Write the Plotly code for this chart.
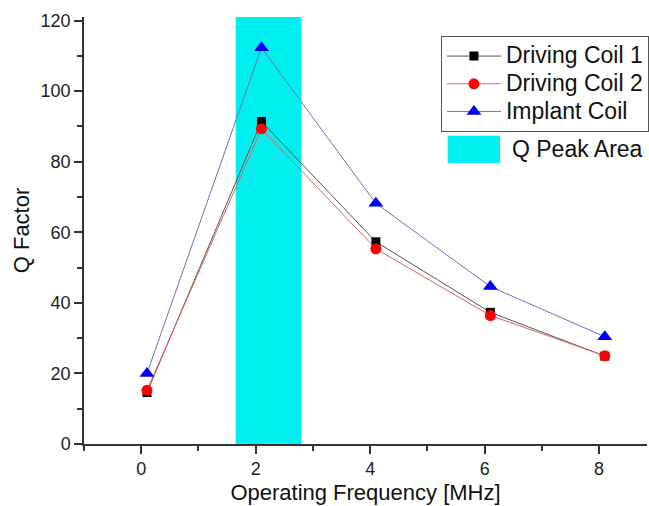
import plotly.graph_objects as go

freq = [0.1, 2.1, 4.1, 6.1, 8.1]
coil1 = [14.6, 91.4, 57.3, 37.3, 24.9]
coil2 = [15.2, 89.3, 55.3, 36.4, 25.0]
implant = [20.0, 112.3, 68.2, 44.6, 30.4]
band_x0, band_x1, band_top = 1.65, 2.80, 121

series_names = ["Driving Coil 1", "Driving Coil 2", "Implant Coil"]
band_name = "Q Peak Area"
x_title = "Operating Frequency [MHz]"
y_title = "Q Factor"

FONT = "Arial, Liberation Sans, sans-serif"

fig = go.Figure()
fig.add_shape(type="rect", xref="x", yref="y", x0=band_x0, x1=band_x1, y0=0, y1=band_top,
              fillcolor="#00f0f0", line=dict(width=0), layer="below")

styles = [
    dict(color="#555555", mcolor="black", symbol="square", size=9),
    dict(color="#e06060", mcolor="#ff0000", symbol="circle", size=11),
    dict(color="#7070c0", mcolor="#0000ee", symbol="triangle-up", size=13),
]
for name, vals, st in zip(series_names, [coil1, coil2, implant], styles):
    fig.add_trace(go.Scatter(
        x=freq, y=vals, name='<span style="font-size:23px">%s</span>' % name,
        mode="lines+markers",
        line=dict(color=st["color"], width=1),
        marker=dict(color=st["mcolor"], symbol=st["symbol"], size=st["size"], line=dict(width=0)),
    ))

# Q Peak Area legend key
fig.add_shape(type="rect", xref="paper", yref="paper", x0=0.646, x1=0.739, y0=0.658, y1=0.722,
              fillcolor="#00f0f0", line=dict(width=0))
fig.add_annotation(text=band_name, xref="paper", yref="paper", x=0.757, y=0.690,
                   xanchor="left", yanchor="middle", showarrow=False,
                   font=dict(family=FONT, size=23, color="#111"))

axis_common = dict(
    showline=True, linecolor="#333", linewidth=1.5, showgrid=False, zeroline=False,
    ticks="outside", ticklen=8, tickwidth=1.5, tickcolor="#333",
    tickfont=dict(family=FONT, size=18, color="#222"),
    title_font=dict(family=FONT, size=22, color="#111"),
    automargin=False,
)
fig.update_xaxes(range=[-1, 8.837], tick0=0, dtick=2, title_text=x_title, title_standoff=6,
                 minor=dict(dtick=1, ticklen=5, tickwidth=1.5, tickcolor="#333", ticks="outside"),
                 **axis_common)
fig.update_yaxes(range=[0, 121], tickvals=[0, 20, 40, 60, 80, 100, 120],
                 title_text=y_title, title_standoff=5,
                 minor=dict(tickvals=[10, 30, 50, 70, 90, 110], ticklen=5, tickwidth=1.5, tickcolor="#333", ticks="outside"),
                 **axis_common)

fig.update_layout(
    width=649, height=506,
    margin=dict(l=84, r=0, t=17, b=62),
    plot_bgcolor="white", paper_bgcolor="white",
    font=dict(family=FONT),
    legend=dict(x=0.634, y=0.955, xanchor="left", yanchor="top",
                bordercolor="#555", borderwidth=1, bgcolor="white",
                font=dict(family=FONT, size=19, color="#111"),
                itemwidth=54, tracegroupgap=0),
    showlegend=True,
)

fig.write_html("out.html", config={"displayModeBar": False},
               post_script="document.body.style.margin='0px';")
